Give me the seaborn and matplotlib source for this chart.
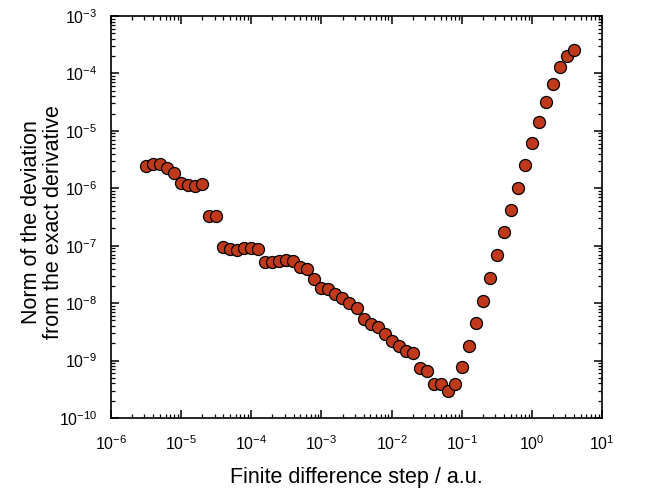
import numpy as np
import pandas as pd
import matplotlib
matplotlib.use("Agg")
import matplotlib.pyplot as plt
import seaborn as sns
from matplotlib.ticker import LogLocator

# log10 of finite difference step (a.u.)
log_step = [
    -5.5, -5.4, -5.3, -5.2, -5.1, -5.0, -4.9, -4.8, -4.7, -4.6,
    -4.5, -4.4, -4.3, -4.2, -4.1, -4.0, -3.9, -3.8, -3.7, -3.6,
    -3.5, -3.4, -3.3, -3.2, -3.1, -3.0, -2.9, -2.8, -2.7, -2.6,
    -2.5, -2.4, -2.3, -2.2, -2.1, -2.0, -1.9, -1.8, -1.7, -1.6,
    -1.5, -1.4, -1.3, -1.2, -1.1, -1.0, -0.9, -0.8, -0.7, -0.6,
    -0.5, -0.4, -0.3, -0.2, -0.1, 0.0, 0.1, 0.2, 0.3, 0.4,
    0.5, 0.6,
]
deviation = [
    2.47e-6, 2.60e-6, 2.68e-6, 2.29e-6, 1.87e-6, 1.24e-6, 1.13e-6, 1.11e-6, 1.17e-6, 3.29e-7,
    3.29e-7, 9.4e-8, 8.65e-8, 8.5e-8, 9.1e-8, 9.0e-8, 8.8e-8, 5.14e-8, 5.14e-8, 5.5e-8,
    5.6e-8, 5.4e-8, 4.2e-8, 3.88e-8, 2.6e-8, 1.86e-8, 1.76e-8, 1.43e-8, 1.21e-8, 9.93e-9,
    8.1e-9, 5.3e-9, 4.33e-9, 3.85e-9, 2.94e-9, 2.19e-9, 1.82e-9, 1.45e-9, 1.34e-9, 7.5e-10,
    6.5e-10, 3.95e-10, 3.9e-10, 2.95e-10, 3.86e-10, 7.6e-10, 1.82e-9, 4.46e-9, 1.10e-8, 2.74e-8,
    6.9e-8, 1.73e-7, 4.24e-7, 1.03e-6, 2.55e-6, 6.07e-6, 1.43e-5, 3.22e-5, 6.63e-5, 1.28e-4,
    2.04e-4, 2.56e-4,
]

df = pd.DataFrame({"step": 10.0 ** np.array(log_step), "dev": deviation})

sns.set_style("ticks")
plt.rcParams["font.family"] = ["Liberation Sans", "DejaVu Sans"]
plt.rcParams["mathtext.fontset"] = "custom"
plt.rcParams["mathtext.rm"] = "Liberation Sans"
plt.rcParams["mathtext.it"] = "Liberation Sans"
plt.rcParams["mathtext.default"] = "regular"
plt.rcParams["text.color"] = "black"
plt.rcParams["axes.labelcolor"] = "black"

fig = plt.figure(figsize=(6.48, 4.91), dpi=100)
ax = fig.add_axes([111 / 648, 1 - 418 / 491, (602 - 111) / 648, (418 - 16) / 491])

sns.scatterplot(data=df, x="step", y="dev", ax=ax, s=75, color="#C0391B",
                edgecolor="black", linewidth=0.9, zorder=3, legend=False)

ax.set_xscale("log")
ax.set_yscale("log")
ax.set_xlim(1e-6, 1e1)
ax.set_ylim(1e-10, 1e-3)

ax.xaxis.set_major_locator(LogLocator(base=10, numticks=20))
ax.yaxis.set_major_locator(LogLocator(base=10, numticks=20))
ax.xaxis.set_minor_locator(LogLocator(base=10, subs=np.arange(2, 10), numticks=20))
ax.yaxis.set_minor_locator(LogLocator(base=10, subs=np.arange(2, 10), numticks=20))

for side in ["top", "right", "bottom", "left"]:
    ax.spines[side].set_visible(True)
    ax.spines[side].set_linewidth(1.2)
    ax.spines[side].set_color("black")

ax.tick_params(which="major", direction="in", length=6, width=1.1, top=True, right=True,
               labelsize=11.5, colors="black")
ax.tick_params(axis="x", which="major", pad=12)
ax.tick_params(axis="y", which="major", pad=10)
ax.tick_params(which="minor", direction="in", length=3, width=0.9, top=True, right=True,
               colors="black")

ax.set_xlabel("Finite difference step / a.u.", fontsize=15.5, labelpad=10, color="black")
ax.set_ylabel("Norm of the deviation\nfrom the exact derivative", fontsize=15.5,
              linespacing=1.1, color="black")
ax.yaxis.set_label_coords(-0.095, 0.487)

fig.savefig("out.png", dpi=100)
